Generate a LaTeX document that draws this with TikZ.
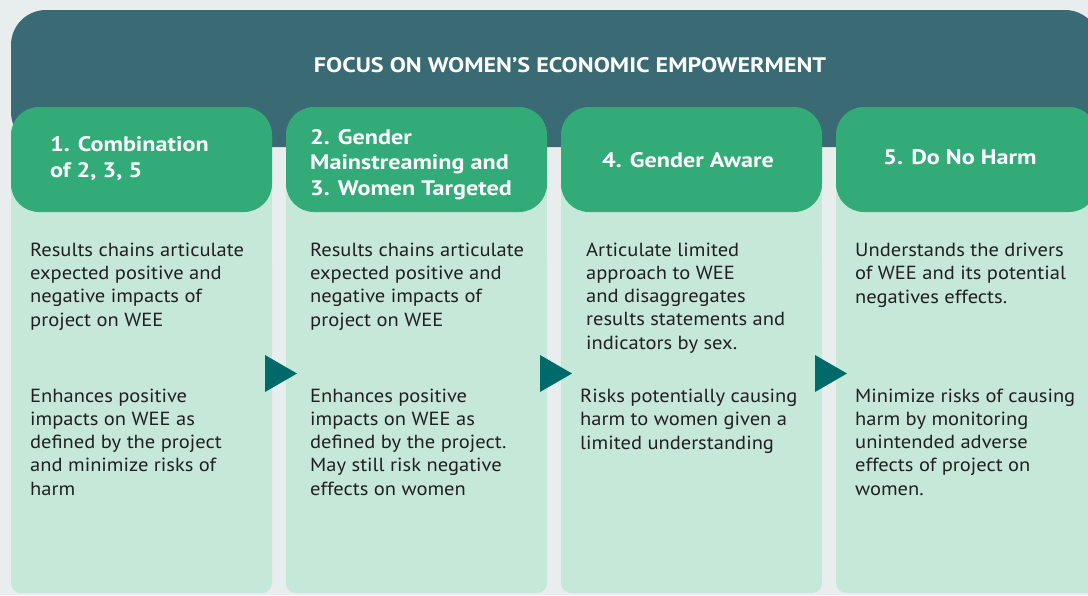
\documentclass[tikz,border=0pt]{standalone}
\usepackage{fontspec}
\setmainfont{PT Sans}[FakeStretch=1.08, BoldFeatures={FakeStretch=1.15}]
\definecolor{bgc}{HTML}{E8EEEE}
\definecolor{darkhead}{HTML}{3A6B74}
\definecolor{greenhead}{HTML}{33AB78}
\definecolor{lightbody}{HTML}{C5E8D8}
\definecolor{arrowc}{HTML}{006A6A}
\definecolor{txt}{HTML}{231F20}
\begin{document}
\begin{tikzpicture}[x=1pt,y=-1pt,
  bodytext/.style={anchor=base west,inner sep=0pt,align=left,text=txt,font=\fontsize{19}{23.1}\selectfont},
  headtext/.style={inner sep=0pt,align=left,text=white,font=\bfseries\fontsize{21}{25.5}\selectfont},
  colbody/.style={fill=lightbody,rounded corners=10pt},
  colhead/.style={fill=greenhead,rounded corners=28pt},
  stepArrow/.style={fill=arrowc}]
\useasboundingbox (0,0) rectangle (1088,595);
\clip (0,0) rectangle (1088,595);
\fill[bgc] (0,0) rectangle (1088,595);
% dark header
\fill[darkhead,rounded corners=35pt] (11,10) rectangle (1100,147);
\node[text=white,font=\bfseries\fontsize{21}{25}\selectfont,anchor=base,inner sep=0pt] (title) at (570,72.5) {FOCUS ON WOMEN’S ECONOMIC EMPOWERMENT};
% columns
\foreach \i/\x in {1/11,2/286,3/561,4/836}{
  \fill[lightbody] (\x,170) rectangle ++(261,130);
  \fill[colbody] (\x,250) rectangle ++(261,343);
  \fill[colhead] (\x,107) rectangle ++(261,105);
}
% column titles (base anchor = baseline of last line)
\node[headtext,anchor=base west] (h1) at (50,177) {1. Combination\\of 2, 3, 5};
\node[headtext,anchor=base west] (h2) at (310,195) {2. Gender\\Mainstreaming and\\3. Women Targeted};
\node[headtext,anchor=base] (h3) at (688,167) {4. Gender Aware};
\node[headtext,anchor=base] (h4) at (960,164.5) {5. Do No Harm};
% body texts
\node[bodytext] (a1) at (30,326) {Results chains articulate\\expected positive and\\negative impacts of\\project on WEE};
\node[bodytext] (b1) at (30,495) {Enhances positive\\impacts on WEE as\\defined by the project\\and minimize risks of\\harm};
\node[bodytext] (a2) at (310,326) {Results chains articulate\\expected positive and\\negative impacts of\\project on WEE};
\node[bodytext] (b2) at (310,495) {Enhances positive\\impacts on WEE as\\defined by the project.\\May still risk negative\\effects on women};
\node[bodytext] (a3) at (586,349) {Articulate limited\\approach to WEE\\and disaggregates\\results statements and\\indicators by sex.};
\node[bodytext] (b3) at (580,449) {Risks potentially causing\\harm to women given a\\limited understanding};
\node[bodytext] (a4) at (855,303) {Understands the drivers\\of WEE and its potential\\negatives effects.};
\node[bodytext] (b4) at (855,495) {Minimize risks of causing\\harm by monitoring\\unintended adverse\\effects of project on\\women.};
% arrows
\foreach \x in {265,540,815}{
  \fill[stepArrow] (\x,355) -- (\x,392) -- (\x+32,373.5) -- cycle;
}
\end{tikzpicture}
\end{document}
